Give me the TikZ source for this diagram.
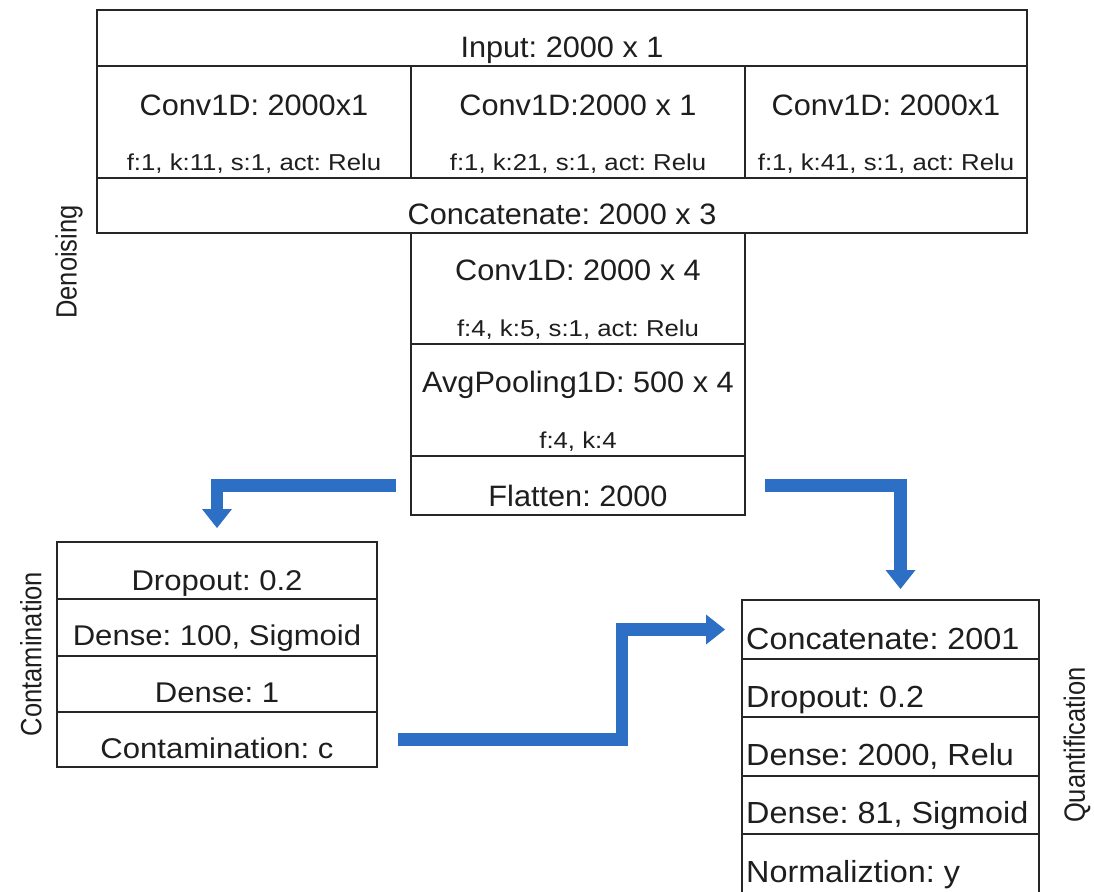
\documentclass[tikz,border=0pt]{standalone}
\usepackage{fontspec}
\setmainfont{Liberation Sans}
\usepackage{graphicx}
\usetikzlibrary{arrows.meta}
\definecolor{arrblue}{RGB}{46,111,198}
\definecolor{edgecol}{RGB}{38,38,38}
\definecolor{txtcol}{RGB}{30,30,30}
\newcommand\txbig[1]{\scalebox{1.04}[1]{#1}}
\newcommand\txsmall[1]{\scalebox{1.12}[1]{#1}}
\newcommand\txleft[1]{\scalebox{1.09}[1]{#1}}
\newcommand\txright[1]{\scalebox{1.06}[1]{#1}}
\newcommand\txlab[1]{\scalebox{1.15}[1]{\rotatebox{90}{#1}}}
\tikzset{
  cellbox/.style={draw=edgecol, line width=1.9pt, inner sep=0pt, outer sep=0pt, anchor=north west},
  bigtxt/.style={anchor=base, inner sep=0pt, text=txtcol, font=\frenchspacing\fontsize{29.5}{35}\selectfont},
  smalltxt/.style={anchor=base, inner sep=0pt, text=txtcol, font=\frenchspacing\fontsize{23}{28}\selectfont},
  lefttxt/.style={anchor=base, inner sep=0pt, text=txtcol, font=\frenchspacing\fontsize{28.5}{34}\selectfont},
  righttxt/.style={anchor=base west, inner sep=0pt, text=txtcol, font=\frenchspacing\fontsize{30.5}{36}\selectfont},
  labtxt/.style={inner sep=0pt, text=txtcol, font=\frenchspacing\fontsize{25.5}{30}\selectfont},
  flow/.style={draw=arrblue, line width=12.5pt, line join=miter,
    -{Triangle[width=30pt,length=19pt,line width=0pt]}},
}
\begin{document}
\frenchspacing
\begin{tikzpicture}[x=1pt,y=-1pt]
\clip (0,0) rectangle (1094,891);
\fill[white] (0,0) rectangle (1094,891);

% Denoising block
\node[cellbox, minimum width=930pt, minimum height=56pt] (input) at (97,10) {};
\node[cellbox, minimum width=314pt, minimum height=112pt] (conva) at (97,66) {};
\node[cellbox, minimum width=334pt, minimum height=112pt] (convb) at (411,66) {};
\node[cellbox, minimum width=282pt, minimum height=112pt] (convc) at (745,66) {};
\node[cellbox, minimum width=930pt, minimum height=55pt] (concat) at (97,178) {};
\node[cellbox, minimum width=334pt, minimum height=111pt] (convd) at (411,233) {};
\node[cellbox, minimum width=334pt, minimum height=112pt] (pool) at (411,344) {};
\node[cellbox, minimum width=334pt, minimum height=59pt] (flatten) at (411,456) {};

\node[bigtxt] (tinput) at (562,58) {\txbig{Input: 2000 x 1}};
\node[bigtxt] (tconva) at (254,115) {\txbig{Conv1D: 2000x1}};
\node[smalltxt] (sconva) at (254,170) {\txsmall{f:1, k:11, s:1, act: Relu}};
\node[bigtxt] (tconvb) at (578,115) {\txbig{Conv1D:2000 x 1}};
\node[smalltxt] (sconvb) at (578,170) {\txsmall{f:1, k:21, s:1, act: Relu}};
\node[bigtxt] (tconvc) at (886,115) {\txbig{Conv1D: 2000x1}};
\node[smalltxt] (sconvc) at (886,170) {\txsmall{f:1, k:41, s:1, act: Relu}};
\node[bigtxt] (tconcat) at (562,224) {\txbig{Concatenate: 2000 x 3}};
\node[bigtxt] (tconvd) at (578,280) {\txbig{Conv1D: 2000 x 4}};
\node[smalltxt] (sconvd) at (578,336) {\txsmall{f:4, k:5, s:1, act: Relu}};
\node[bigtxt] (tpool) at (578,392) {\txbig{AvgPooling1D: 500 x 4}};
\node[smalltxt] (spool) at (578,448) {\txsmall{f:4, k:4}};
\node[bigtxt] (tflat) at (578,506) {\txbig{Flatten: 2000}};

% Contamination block
\node[cellbox, minimum width=320pt, minimum height=57pt] (cdrop) at (57,542) {};
\node[cellbox, minimum width=320pt, minimum height=57pt] (cdensea) at (57,599) {};
\node[cellbox, minimum width=320pt, minimum height=56pt] (cdenseb) at (57,656) {};
\node[cellbox, minimum width=320pt, minimum height=55pt] (cout) at (57,712) {};
\node[lefttxt] (tcdrop) at (217,590) {\txleft{Dropout: 0.2}};
\node[lefttxt] (tcdensea) at (217,645) {\txleft{Dense: 100, Sigmoid}};
\node[lefttxt] (tcdenseb) at (217,702) {\txleft{Dense: 1}};
\node[lefttxt] (tcout) at (217,758) {\txleft{Contamination: c}};

% Quantification block
\node[cellbox, minimum width=297pt, minimum height=59pt] (qconcat) at (742,600) {};
\node[cellbox, minimum width=297pt, minimum height=58pt] (qdrop) at (742,659) {};
\node[cellbox, minimum width=297pt, minimum height=59pt] (qdensea) at (742,717) {};
\node[cellbox, minimum width=297pt, minimum height=58pt] (qdenseb) at (742,776) {};
\node[cellbox, minimum width=297pt, minimum height=70pt] (qnorm) at (742,834) {};
\node[righttxt] (tqconcat) at (746,649) {\txright{Concatenate: 2001}};
\node[righttxt] (tqdrop) at (746,707) {\txright{Dropout: 0.2}};
\node[righttxt] (tqdensea) at (746,765) {\txright{Dense: 2000, Relu}};
\node[righttxt] (tqdenseb) at (746,823) {\txright{Dense: 81, Sigmoid}};
\node[righttxt] (tqnorm) at (746,882) {\txright{Normaliztion: y}};

% side labels
\node[labtxt] (lden) at (69,262) {\txlab{Denoising}};
\node[labtxt] (lcon) at (31,654) {\txlab{Contamination}};
\node[labtxt] (lqua) at (1077,745) {\txlab{Quantification}};

% arrows
\draw[flow] ([xshift=-15pt]flatten.west) -| ([yshift=14pt]cdrop.north);
\draw[flow] ([xshift=20pt]flatten.east) -| ([xshift=10pt,yshift=11pt]qconcat.north);
\draw[flow] ([xshift=21pt]cout.east) -- ++(224,0) |- ([xshift=-17pt]qconcat.west);
\end{tikzpicture}
\end{document}
